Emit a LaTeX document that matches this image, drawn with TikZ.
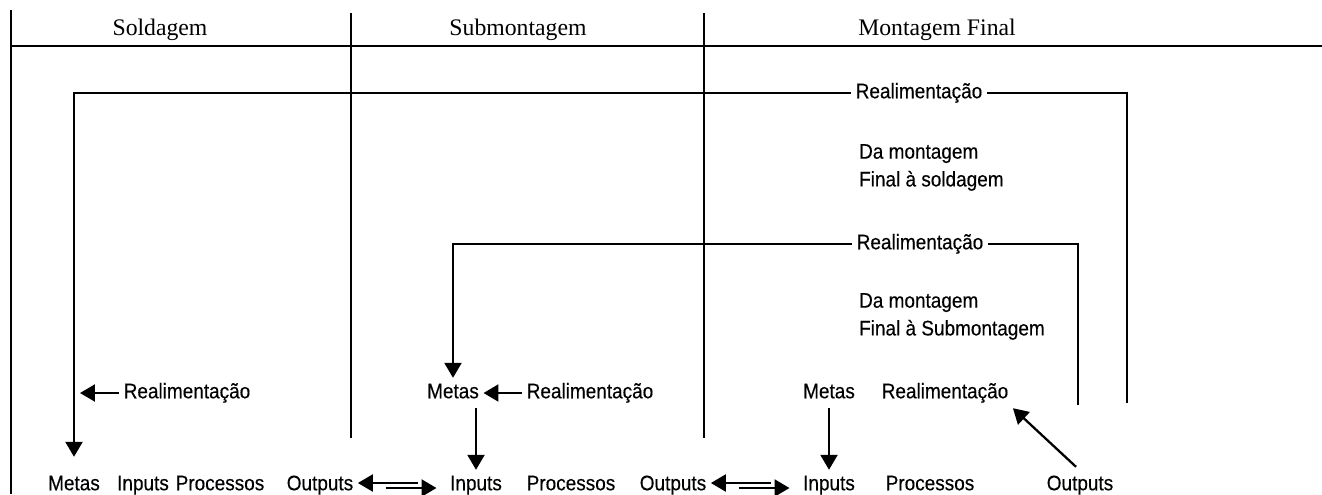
\documentclass[tikz,border=0pt]{standalone}
\usepackage{fontspec}
\setmainfont{Liberation Serif}
\newfontfamily\narrowsans[FakeStretch=0.9,FakeBold=0.3]{Liberation Sans}
\usetikzlibrary{calc}
\usetikzlibrary{arrows.meta}

\begin{document}
\begin{tikzpicture}[x=0.02cm,y=-0.02cm,line width=1.3pt,
    head/.style={font=\fontsize{13.5}{16}\selectfont,anchor=base,inner sep=0pt},
    lbl/.style={font=\narrowsans\fontsize{12}{16}\selectfont,text height=9pt,text depth=3pt,inner sep=2pt},
    note/.style={font=\narrowsans\fontsize{12}{15.8}\selectfont,align=left,anchor=north west,inner sep=0pt},
    arr/.style={-{Triangle[length=0.3cm,width=0.34cm]}}]
    \useasboundingbox (0,0) rectangle (1322,494);
    % frame and columns
    \draw (11,10) -- (11,494);
    \draw (11,46) -- (1322,46);
    \foreach \x in {351,704}{
        \draw (\x,13) -- (\x,438);
    }
    \node[head] (hsol) at (160,35) {Soldagem};
    \node[head] (hsub) at (518,35) {Submontagem};
    \node[head] (hfin) at (937,35) {Montagem Final};
    % feedback labels
    \node[lbl] (rf1) at (919,93) {Realimentação};
    \node[note] (nt1) at (858,143) {Da montagem\\Final à soldagem};
    \node[lbl] (rf2) at (920,244) {Realimentação};
    \node[note] (nt2) at (858,292) {Da montagem\\Final à Submontagem};
    \node[lbl] (r1) at (187,393) {Realimentação};
    \node[lbl] (m2) at (453,393) {Metas};
    \node[lbl] (r2) at (590,393) {Realimentação};
    \node[lbl] (m3) at (829,393) {Metas};
    \node[lbl] (r3) at (945,393) {Realimentação};
    % bottom row
    \foreach \n/\x/\t in {m1/74/Metas,i1/143/Inputs,p1/220/Processos,o1/320/Outputs,
        i2/476/Inputs,p2/571/Processos,o2/673/Outputs,
        i3/829/Inputs,p3/930/Processos,o3/1080/Outputs}{
        \node[lbl] (\n) at (\x,485) {\t};
    }
    \coordinate (e1) at (1127,403);
    \coordinate (e2) at (1078,405);
    \coordinate (fb1) at (80,393);
    % connectors
    \draw[arr,shorten >=0.26cm] (rf1.west) -| (m1.north);
    \draw (rf1.east) -| (e1);
    \draw[arr] (rf2.west) -| (m2.north);
    \draw (rf2.east) -| (e2);
    \draw[arr] (r1.west) -- (fb1);
    \draw[arr] (r2.west) -- (m2.east);
    \draw[arr] (m2.south -| i2.north) -- (i2.north);
    \draw[arr] (m3.south) -- (i3.north);
    \draw[arr] ($(o3.north)+(-4,-3)$) -- (r3.south east);
    \foreach \a/\b in {o1/i2,o2/i3}{
        \draw[arr] ($(\a.east)+(60,-2)$) -- ($(\a.east)+(0,-2)$);
        \draw[arr] ($(\b.west)+(-60,3)$) -- ($(\b.west)+(-9,3)$);
    }
\end{tikzpicture}
\end{document}
